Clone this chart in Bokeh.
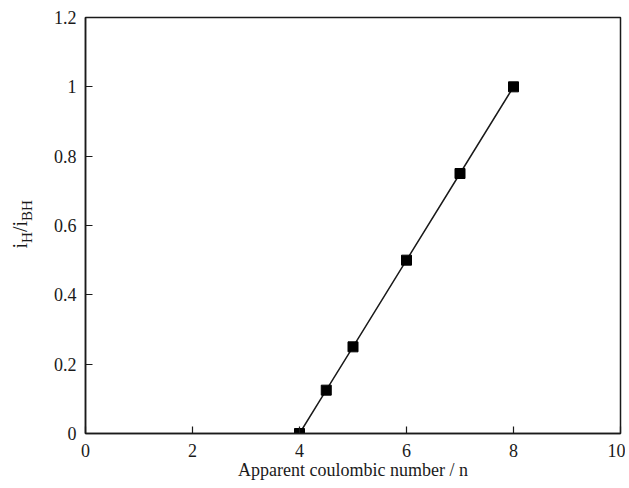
from bokeh.plotting import figure
from bokeh.layouts import row
from bokeh.models import Range1d, FixedTicker, ColumnDataSource
from bokeh.core.properties import value
from bokeh.embed import file_html
from bokeh.resources import INLINE

# data
n_values = [4, 4.5, 5, 6, 7, 8]
ratio_values = [0, 0.125, 0.25, 0.5, 0.75, 1.0]
x_ticks = [0, 2, 4, 6, 8, 10]
y_ticks = [0, 0.2, 0.4, 0.6, 0.8, 1.0, 1.2]
y_tick_labels = {0: "0", 0.2: "0.2", 0.4: "0.4", 0.6: "0.6", 0.8: "0.8", 1.0: "1", 1.2: "1.2"}
x_label = "Apparent coulombic number / n"
y_label_parts = ["i", "H", "/", "i", "BH"]
y_label_is_sub = [False, True, False, False, True]

FONT = "Liberation Serif"
INK = "#1a1a1a"
LEFT_W = 40
TOTAL_H = 480

p = figure(frame_width=535, frame_height=416, output_backend="svg", toolbar_location=None,
           x_range=Range1d(0, 10), y_range=Range1d(0, 1.2),
           min_border_left=85 - LEFT_W, min_border_top=17, min_border_right=5,
           min_border_bottom=TOTAL_H - 17 - 416)
p.grid.visible = False
p.outline_line_color = INK
p.outline_line_width = 1.5
p.background_fill_color = "white"
p.border_fill_color = "white"

for ax in (p.xaxis[0], p.yaxis[0]):
    ax.axis_line_color = INK
    ax.axis_line_width = 1.5
    ax.major_tick_in = 7
    ax.major_tick_out = 0
    ax.major_tick_line_color = INK
    ax.major_tick_line_width = 1.2
    ax.minor_tick_line_color = None
    ax.major_label_text_font = FONT
    ax.major_label_text_font_size = "18px"
    ax.major_label_text_color = INK

p.xaxis.ticker = FixedTicker(ticks=x_ticks)
p.yaxis.ticker = FixedTicker(ticks=y_ticks)
p.yaxis.major_label_overrides = y_tick_labels
p.xaxis.major_label_standoff = 10
p.yaxis.major_label_standoff = 9

p.xaxis.axis_label = x_label
p.xaxis.axis_label_text_font = FONT
p.xaxis.axis_label_text_font_size = "18px"
p.xaxis.axis_label_text_font_style = "normal"
p.xaxis.axis_label_text_color = INK
p.xaxis.axis_label_standoff = 0

src = ColumnDataSource(data=dict(n=n_values, r=ratio_values))
p.line("n", "r", source=src, line_color=INK, line_width=1.5)
p.scatter("n", "r", source=src, marker="square", size=10, fill_color="black", line_color="black")

# narrow side figure carrying the rotated y label (i_H / i_BH) in pixel coordinates
q = figure(frame_width=LEFT_W, frame_height=TOTAL_H, output_backend="svg", toolbar_location=None,
           x_range=Range1d(0, LEFT_W), y_range=Range1d(0, TOTAL_H),
           x_axis_location=None, y_axis_location=None,
           min_border_left=0, min_border_right=0, min_border_top=0, min_border_bottom=0)
q.grid.visible = False
q.outline_line_color = None
q.background_fill_color = "white"
q.border_fill_color = "white"

widths = {"i": 5.56, "/": 5.56, "H": 10.83, "BH": 20.8}
xs, ys, sizes = [], [], []
pos = 231.0
for part, sub in zip(y_label_parts, y_label_is_sub):
    xs.append(26.0 if sub else 19.0)
    ys.append(TOTAL_H - pos)
    sizes.append("15px" if sub else "20px")
    pos -= widths[part]
lsrc = ColumnDataSource(data=dict(x=xs, y=ys, t=y_label_parts, s=sizes))
q.text("x", "y", text="t", source=lsrc, angle=1.5707963, text_align="left",
       text_baseline="alphabetic", text_font=value(FONT), text_font_size="s",
       text_color=INK)

layout = row(q, p, spacing=0)
open("out.html", "w").write(file_html(layout, INLINE))
